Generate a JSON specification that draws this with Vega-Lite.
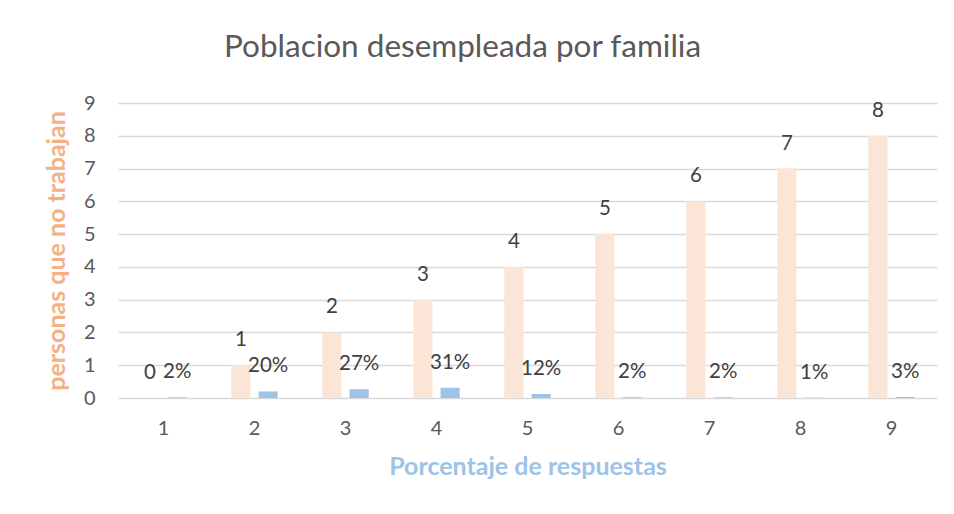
{
  "$schema": "https://vega.github.io/schema/vega-lite/v6.json",
  "autosize": "none",
  "width": 819,
  "height": 295,
  "padding": {"left": 118, "top": 103, "right": 17, "bottom": 116},
  "background": "white",
  "title": {
    "text": "Poblacion desempleada por familia",
    "font": "Lato",
    "fontSize": 31.5,
    "fontWeight": "normal",
    "color": "#595959",
    "anchor": "middle",
    "dx": -65,
    "offset": 30
  },
  "data": {
    "values": [
      {"cat": 1, "serie": "personas", "value": 0, "label": "0"},
      {"cat": 2, "serie": "personas", "value": 1, "label": "1"},
      {"cat": 3, "serie": "personas", "value": 2, "label": "2"},
      {"cat": 4, "serie": "personas", "value": 3, "label": "3"},
      {"cat": 5, "serie": "personas", "value": 4, "label": "4"},
      {"cat": 6, "serie": "personas", "value": 5, "label": "5"},
      {"cat": 7, "serie": "personas", "value": 6, "label": "6"},
      {"cat": 8, "serie": "personas", "value": 7, "label": "7"},
      {"cat": 9, "serie": "personas", "value": 8, "label": "8"},
      {"cat": 1, "serie": "porcentaje", "value": 0.02, "label": "2%"},
      {"cat": 2, "serie": "porcentaje", "value": 0.20, "label": "20%"},
      {"cat": 3, "serie": "porcentaje", "value": 0.27, "label": "27%"},
      {"cat": 4, "serie": "porcentaje", "value": 0.31, "label": "31%"},
      {"cat": 5, "serie": "porcentaje", "value": 0.12, "label": "12%"},
      {"cat": 6, "serie": "porcentaje", "value": 0.02, "label": "2%"},
      {"cat": 7, "serie": "porcentaje", "value": 0.02, "label": "2%"},
      {"cat": 8, "serie": "porcentaje", "value": 0.01, "label": "1%"},
      {"cat": 9, "serie": "porcentaje", "value": 0.03, "label": "3%"}
    ]
  },
  "encoding": {
    "x": {
      "field": "cat",
      "type": "ordinal",
      "scale": {"paddingInner": 0.49, "paddingOuter": 0.245},
      "axis": {
        "title": "Porcentaje de respuestas",
        "titleFont": "Lato",
        "titleFontSize": 25,
        "titleFontWeight": "bold",
        "titleColor": "#9DC3E6",
        "titlePadding": 16,
        "labelFont": "Lato",
        "labelFontSize": 20,
        "labelColor": "#595959",
        "labelAngle": 0,
        "labelPadding": 20,
        "ticks": false,
        "domain": false
      }
    },
    "xOffset": {
      "field": "serie",
      "type": "nominal",
      "scale": {"paddingInner": 0.3, "paddingOuter": 0}
    },
    "y": {
      "field": "value",
      "type": "quantitative",
      "scale": {"domain": [0, 9], "nice": false},
      "axis": {
        "title": "personas que no trabajan",
        "titleFont": "Lato",
        "titleFontSize": 25,
        "titleFontWeight": "bold",
        "titleColor": "#F4B183",
        "titlePadding": 14,
        "labelFont": "Lato",
        "labelFontSize": 20,
        "labelColor": "#595959",
        "labelPadding": 23,
        "labelOverlap": false,
        "values": [0, 1, 2, 3, 4, 5, 6, 7, 8, 9],
        "ticks": false,
        "domain": false,
        "grid": true,
        "gridColor": "#d9d9d9",
        "gridWidth": 1.5
      }
    }
  },
  "layer": [
    {
      "mark": {"type": "bar"},
      "encoding": {
        "color": {
          "field": "serie",
          "type": "nominal",
          "scale": {"domain": ["personas", "porcentaje"], "range": ["#FBE5D6", "#9DC3E6"]},
          "legend": null
        }
      }
    },
    {
      "mark": {"type": "text", "dy": -25, "baseline": "middle", "font": "Lato", "fontSize": 20.5, "color": "#404040"},
      "encoding": {
        "text": {"field": "label", "type": "nominal"}
      }
    }
  ],
  "config": {
    "view": {"stroke": null}
  }
}
